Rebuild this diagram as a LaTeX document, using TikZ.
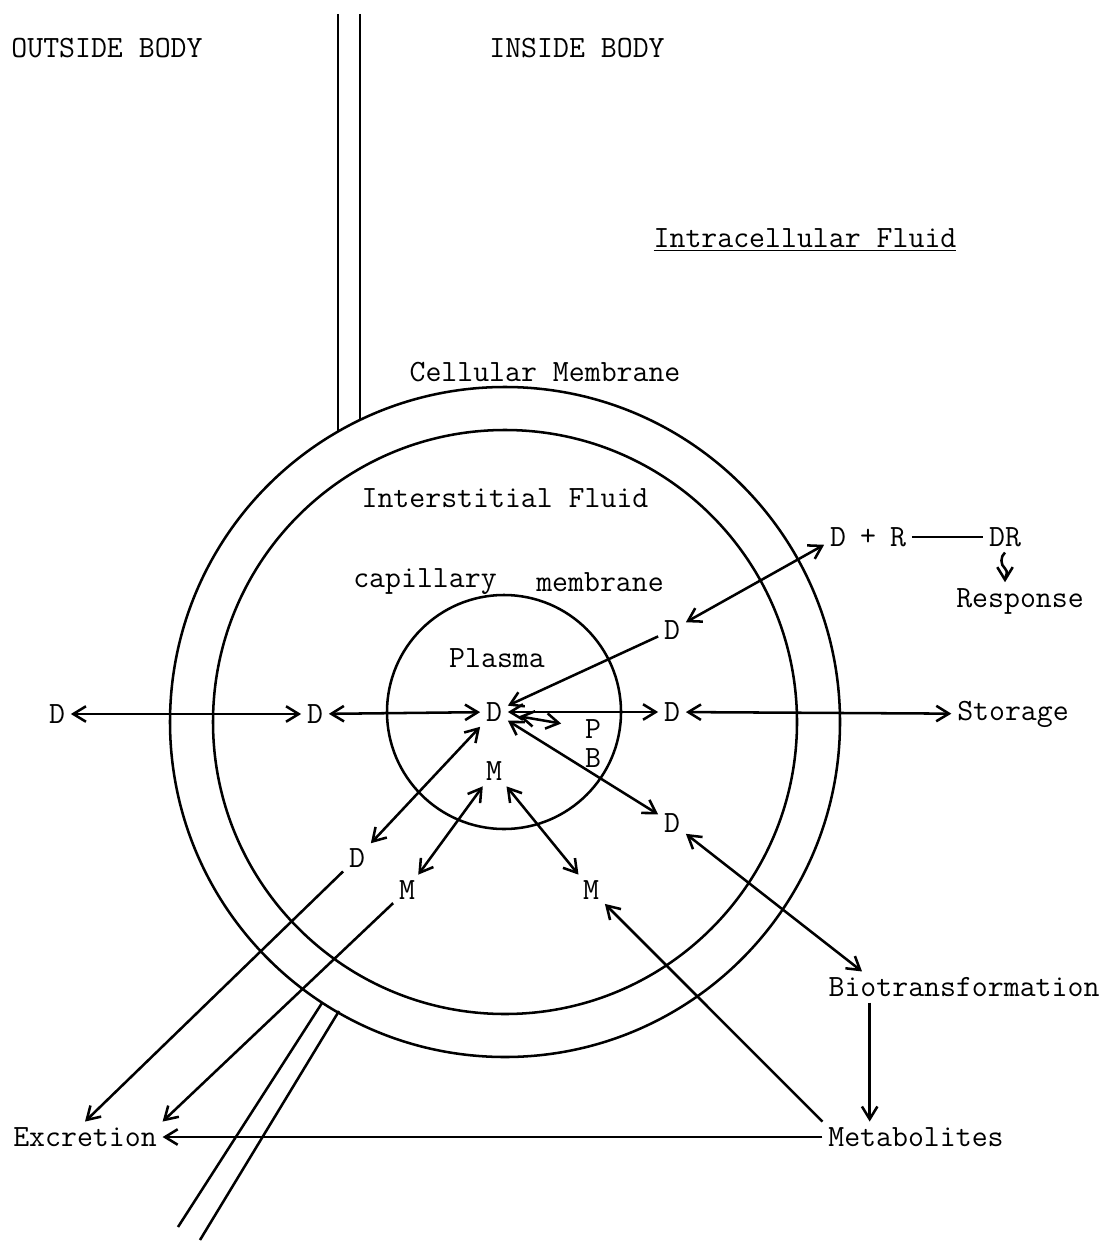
\documentclass[tikz,border=0pt]{standalone}
\usepackage{fontspec}
\usetikzlibrary{arrows.meta}

\tikzset{
	lbl/.style={font=\ttfamily\fontsize{22}{26}\selectfont, inner sep=4pt},
	ring/.style={line width=1.8pt},
	arr/.style={line width=1.8pt, -{Straight Barb[length=9pt,width=11pt]}},
	dbl/.style={line width=1.8pt, {Straight Barb[length=9pt,width=11pt]}-{Straight Barb[length=9pt,width=11pt]}},
}

\begin{document}
\begin{tikzpicture}[x=0.025cm, y=-0.025cm]
			%%%%% START %%%%%
			\useasboundingbox (0,0) rectangle (1107,1241);
			
			\node[lbl] (outside) at (107,48) {OUTSIDE BODY};
			\node[lbl] (inside) at (577,48) {INSIDE BODY};
			\node[lbl] (intra) at (805,240) {\underline{Intracellular Fluid}};
			
			\draw[ring] (338,14) -- (338,432);
			\draw[ring] (360,14) -- (360,420);
			\draw[ring] (322,1003) -- (178,1227);
			\draw[ring] (339,1011) -- (200,1240);
			
			\draw[ring] (505,722) circle [radius=335];
			\draw[ring] (505,722) circle [radius=292];
			\draw[ring] (504,712) circle [radius=117];
			
			\node[lbl] (cellm) at (545,372) {Cellular Membrane};
			\node[lbl] (inter) at (505,498) {Interstitial Fluid};
			\node[lbl] (capl) at (425,582) {capillary};
			\node[lbl] (capr) at (600,582) {membrane};
			\node[lbl] (plasma) at (497,658) {Plasma};
			
			\node[lbl] (dpl) at (494,712) {D};
			\node[lbl] (dout) at (57,714) {D};
			\node[lbl] (dint) at (315,714) {D};
			\node[lbl] (dright) at (672,712) {D};
			\node[lbl] (stor) at (1013,714) {Storage};
			\node[lbl] (dup) at (672,630) {D};
			\node[lbl] (drec) at (838,537) {D};
			\node[lbl] (plus) at (868,537) {+};
			\node[lbl] (rec) at (898,537) {R};
			\node[lbl] (dr) at (1005,537) {DR};
			\node[lbl] (resp) at (1020,601) {Response};
			\node[lbl, inner sep=1pt] (pp) at (593,729) {P};
			\node[lbl, inner sep=1pt] (bb) at (593,758) {B};
			\node[lbl] (mpl) at (494,771) {M};
			\node[lbl] (dlo) at (357,858) {D};
			\node[lbl] (mlo) at (407,890) {M};
			\node[lbl] (mri) at (591,890) {M};
			\node[lbl] (dlr) at (672,823) {D};
			\node[lbl] (bio) at (964,987) {Biotransformation};
			\node[lbl] (exc) at (85,1137) {Excretion};
			\node[lbl] (met) at (916,1137) {Metabolites};
			
			\draw[dbl] (dout) -- (dint);
			\draw[dbl] (dint) -- (dpl);
			\draw[dbl] (dpl) -- (dright);
			\draw[dbl] (dright) -- (stor);
			\draw[arr] (dup) -- (dpl);
			\draw[dbl] (dup) -- (drec);
			\draw[dbl, shorten <=8pt, shorten >=16pt] (dpl) -- (pp);
			\draw[dbl] (dpl) -- (dlr);
			\draw[dbl] (dlr) -- ([xshift=28pt]bio.north west);
			\draw[dbl] (dpl) -- (dlo);
			\draw[arr] (dlo) -- (exc.north);
			\draw[dbl] (mpl) -- (mlo);
			\draw[dbl] (mpl) -- (mri);
			\draw[arr] (mlo) -- (exc.north east);
			\draw[arr] (met.north west) -- (mri);
			\draw[arr] (bio.south west) ++(47,0) coordinate (bt) -- (bt |- met.north);
			\draw[arr] (met) -- (exc);
			
			\draw[ring] (rec) -- (dr);
			\draw[arr] (dr.south) to[out=-140,in=140] ++(0,16) to[out=-40,in=90] (dr.south |- resp.north);
			
			%%%%% END %%%%%
		\end{tikzpicture}
\end{document}
